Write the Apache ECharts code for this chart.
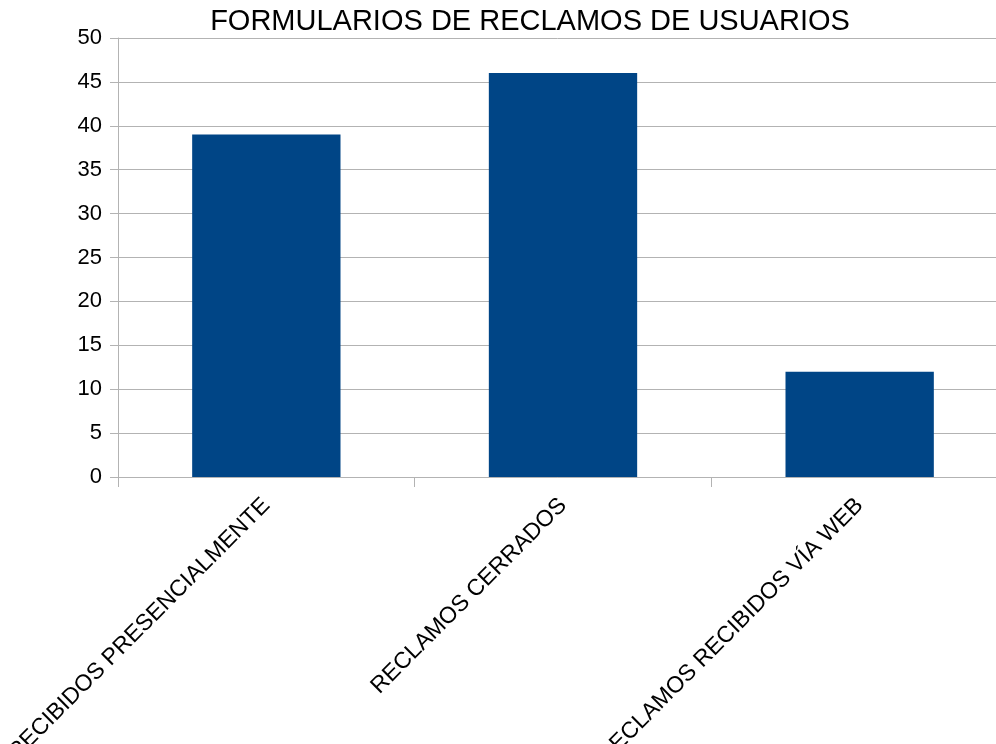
<!DOCTYPE html>
<html>
<head>
<meta charset="utf-8">
<script src="https://cdn.jsdelivr.net/npm/echarts@6/dist/echarts.min.js"></script>
<style>
  html, body { margin: 0; padding: 0; background: #fff; }
  #chart { width: 996px; height: 744px; }
</style>
</head>
<body>
<div id="chart"></div>
<script>
// datos del grafico
var categorias = ['RECLAMOS RECIBIDOS PRESENCIALMENTE', 'RECLAMOS CERRADOS', 'RECLAMOS RECIBIDOS VÍA WEB'];
var valores = [39, 46, 12];
var ticksY = { min: 0, max: 50, interval: 5 };

var chart = echarts.init(document.getElementById('chart'));
var gris = '#b3b3b3';
var fuente = '"Liberation Sans", Arial, sans-serif';

chart.setOption({
    animation: false,
    title: {
        text: 'FORMULARIOS DE RECLAMOS DE USUARIOS',
        left: 525,
        textAlign: 'center',
        top: 2,
        textStyle: { fontFamily: fuente, fontSize: 29, fontWeight: 'normal', color: '#000' }
    },
    grid: { left: 118, right: -12, top: 38, bottom: 267, containLabel: false, outerBoundsMode: 'none' },
    xAxis: {
        type: 'category',
        data: categorias,
        axisLine: { lineStyle: { color: gris } },
        axisTick: { show: true, length: 10, alignWithLabel: false, lineStyle: { color: gris } },
        axisLabel: { rotate: 45, margin: 25, fontFamily: fuente, fontSize: 23, color: '#000', interval: 0 },
        splitLine: { show: false }
    },
    yAxis: {
        type: 'value',
        min: ticksY.min,
        max: ticksY.max,
        interval: ticksY.interval,
        axisLine: { show: true, lineStyle: { color: gris } },
        axisTick: { show: true, length: 8, lineStyle: { color: gris } },
        axisLabel: { margin: 16, fontFamily: fuente, fontSize: 22, color: '#000' },
        splitLine: { lineStyle: { color: gris } }
    },
    series: [{
        type: 'bar',
        data: valores,
        barWidth: '50%',
        itemStyle: { color: '#004586' }
    }]
});
</script>
</body>
</html>
